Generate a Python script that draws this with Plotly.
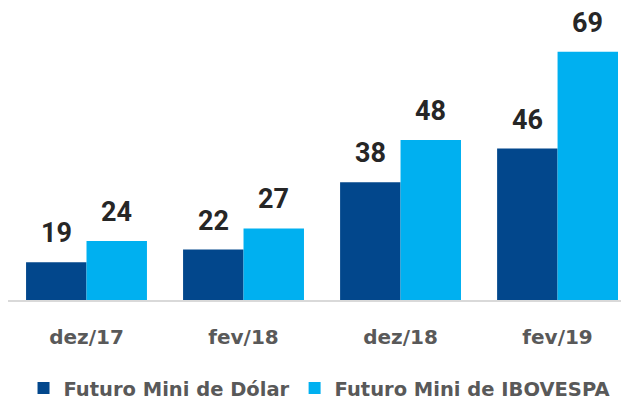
import plotly.graph_objects as go

categories = ["dez/17", "fev/18", "dez/18", "fev/19"]
dolar = [19, 22, 38, 46]
ibovespa = [24, 27, 48, 69]
series_names = ["Futuro Mini de Dólar", "Futuro Mini de IBOVESPA"]

DARK = "#02478C"
LIGHT = "#00B0F0"

fig = go.Figure()
fig.add_trace(go.Bar(x=categories, y=dolar, name=series_names[0],
                     marker=dict(color=DARK, line=dict(width=0))))
fig.add_trace(go.Bar(x=categories, y=ibovespa, name=series_names[1],
                     marker=dict(color=LIGHT, line=dict(width=0))))

annotations = []
for vals, shift in ((dolar, -30.2), (ibovespa, 30.2)):
    for c, v in zip(categories, vals):
        annotations.append(dict(
            x=c, y=v, xref="x", yref="y", text=str(v), showarrow=False,
            xshift=shift, yshift=11, yanchor="bottom", xanchor="center",
            font=dict(family="Roboto", size=27, color="#262626", weight="bold"),
        ))

fig.update_layout(
    width=621, height=392,
    margin=dict(l=0, r=0, t=0, b=100, autoexpand=False),
    paper_bgcolor="white", plot_bgcolor="white",
    barmode="group", bargap=0.23, bargroupgap=0,
    showlegend=True,
    legend=dict(orientation="h", x=0.025, xanchor="left", y=-0.236, yanchor="top",
                font=dict(family="DejaVu Sans", size=19.5, color="#595959", weight="bold"),
                bgcolor="rgba(0,0,0,0)", itemclick=False, traceorder="normal"),
    xaxis=dict(range=[-0.5, 3.455], showline=True, linecolor="#D9D9D9", linewidth=2,
               showgrid=False, zeroline=False, ticks="",
               tickfont=dict(family="DejaVu Sans", size=20, color="#595959", weight="bold"),
               ticklabelstandoff=18, fixedrange=True),
    yaxis=dict(range=[10, 79.4], visible=False, showgrid=False, zeroline=False, fixedrange=True),
    annotations=annotations,
)

fig.write_html("out.html")
